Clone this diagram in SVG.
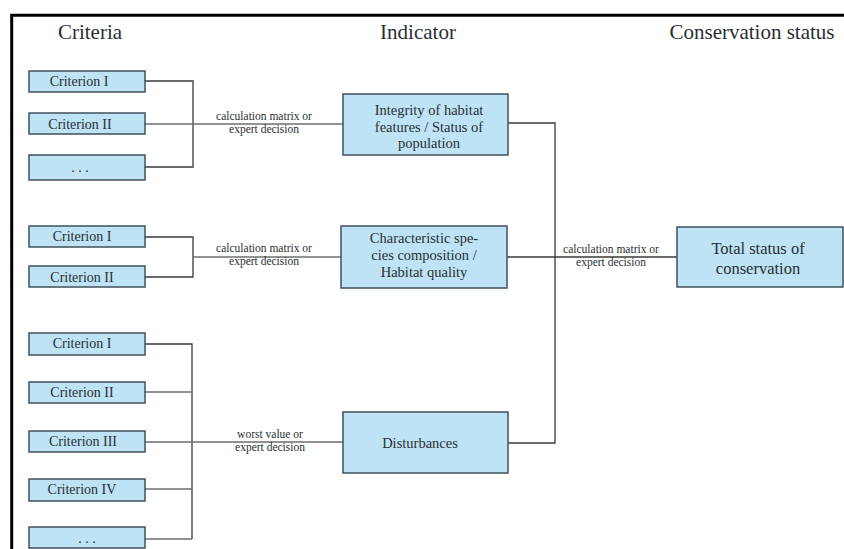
<svg xmlns="http://www.w3.org/2000/svg" width="844" height="549" viewBox="0 0 844 549" font-family="'Liberation Serif', 'DejaVu Serif', 'Times New Roman', serif">
<style>
.box{fill:#bde3f4;stroke:#3f505c;stroke-width:1.5}
text{font-family:'Liberation Serif','DejaVu Serif',serif;fill:#2a2f33;text-anchor:middle}
.h{font-size:21px}
.c{font-size:14px}
.i{font-size:14.5px}
.lb{font-size:11.5px}
.ln{fill:none;stroke:#3a3a3a;stroke-width:1.3}
.lg{fill:none;stroke:#6e6e6e;stroke-width:1.3}
</style>
<rect width="844" height="549" fill="#fff"/>
<path d="M10.3 15.3H844M11.7 14V549" stroke="#000" stroke-width="3" fill="none"/>
<g id="headers">
<text class="h" x="90" y="39">Criteria</text>
<text class="h" x="418" y="39">Indicator</text>
<text class="h" x="752" y="39">Conservation status</text>
</g>
<g id="connectors">
<path class="ln" d="M145 81H193V167H145"/>
<path class="lg" d="M145 124H343"/>
<path class="ln" d="M145 237H193V277H145"/>
<path class="lg" d="M193 257H341"/>
<path class="ln" d="M145 344H192V539"/>
<path class="lg" d="M145 392H192M145 442H343M145 489H192M145 539H192"/>
<path class="ln" d="M508 123H555V443H508"/>
<path class="ln" d="M507 257H677"/>
<text class="lb" x="264" y="120">calculation matrix or</text>
<text class="lb" x="264" y="133">expert decision</text>
<text class="lb" x="264" y="252">calculation matrix or</text>
<text class="lb" x="264" y="265">expert decision</text>
<text class="lb" x="270" y="438">worst value or</text>
<text class="lb" x="270" y="451">expert decision</text>
<text class="lb" x="611" y="253">calculation matrix or</text>
<text class="lb" x="611" y="266">expert decision</text>
</g>
<g id="g1c1"><rect class="box" x="29" y="71" width="116" height="21"/><text class="c" x="79" y="86">Criterion I</text></g>
<g id="g1c2"><rect class="box" x="29" y="113" width="116" height="21"/><text class="c" x="80" y="129">Criterion II</text></g>
<g id="g1c3"><rect class="box" x="29" y="155" width="116" height="25"/><text class="c" x="80" y="172">. . .</text></g>
<g id="g2c1"><rect class="box" x="29" y="226" width="116" height="21"/><text class="c" x="82" y="241">Criterion I</text></g>
<g id="g2c2"><rect class="box" x="29" y="266" width="116" height="21"/><text class="c" x="82" y="282">Criterion II</text></g>
<g id="g3c1"><rect class="box" x="29" y="333" width="116" height="22"/><text class="c" x="82" y="348">Criterion I</text></g>
<g id="g3c2"><rect class="box" x="29" y="382" width="116" height="21"/><text class="c" x="82" y="397">Criterion II</text></g>
<g id="g3c3"><rect class="box" x="29" y="431" width="116" height="21"/><text class="c" x="83" y="446">Criterion III</text></g>
<g id="g3c4"><rect class="box" x="29" y="479" width="116" height="22"/><text class="c" x="82" y="494">Criterion IV</text></g>
<g id="g3c5"><rect class="box" x="29" y="527" width="116" height="21"/><text class="c" x="87" y="543">. . .</text></g>
<g id="integrity"><rect class="box" x="343" y="94" width="165" height="61"/>
<text class="i" x="429" y="115">Integrity of habitat</text>
<text class="i" x="429" y="132">features / Status of</text>
<text class="i" x="429" y="148">population</text></g>
<g id="characteristic"><rect class="box" x="341" y="226" width="166" height="62"/>
<text class="i" x="424" y="243">Characteristic spe-</text>
<text class="i" x="424" y="260">cies composition /</text>
<text class="i" x="424" y="277">Habitat quality</text></g>
<g id="disturbances"><rect class="box" x="343" y="412" width="165" height="61"/>
<text class="i" x="420" y="448">Disturbances</text></g>
<g id="total"><rect class="box" x="677" y="227" width="166" height="60"/>
<text font-size="16.5" x="758" y="254">Total status of</text>
<text font-size="16.5" x="758" y="274">conservation</text></g>
</svg>
